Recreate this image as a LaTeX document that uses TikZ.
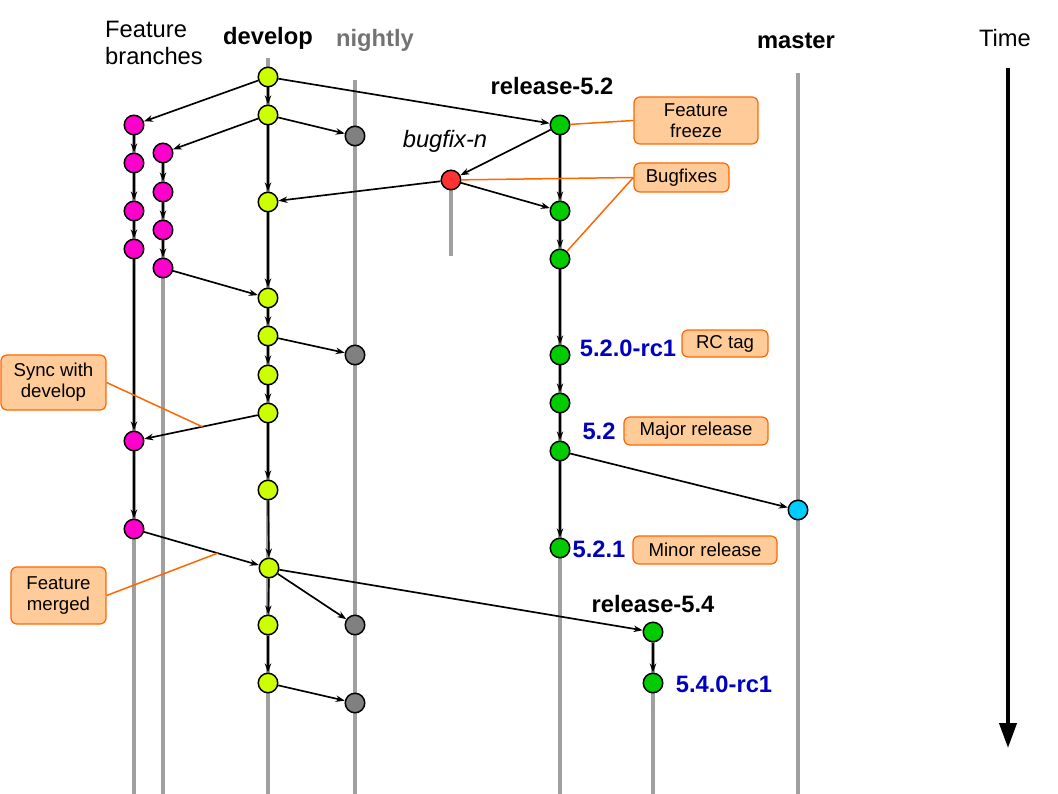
\documentclass[tikz,border=0pt]{standalone}
\usepackage{fontspec}
\setmainfont{Liberation Sans}
\usetikzlibrary{arrows.meta}
\usetikzlibrary{backgrounds}
\usetikzlibrary{calc}
\tikzset{>={Stealth[length=1.8mm,width=1.3mm]}}
\definecolor{devcol}{RGB}{204,255,0}
\definecolor{featcol}{RGB}{255,0,204}
\definecolor{nightcol}{RGB}{128,128,128}
\definecolor{fixcol}{RGB}{255,51,51}
\definecolor{relcol}{RGB}{0,204,0}
\definecolor{mastcol}{RGB}{0,204,255}
\definecolor{lanegray}{RGB}{160,160,160}
\definecolor{calloutfill}{RGB}{255,204,153}
\definecolor{calloutline}{RGB}{255,102,0}
\definecolor{tagblue}{RGB}{0,0,190}
\tikzset{
  commit/.style={circle,draw,line width=0.85pt,minimum size=3.9mm,inner sep=0pt},
  lane/.style={line width=2.2pt,draw=lanegray},
  merge/.style={->,line width=0.95pt},
  callout/.style={draw=calloutline,fill=calloutfill,rounded corners=1.2mm,line width=0.7pt,
    align=center,inner sep=0pt,font=\fontsize{10.6}{12}\selectfont},
  pointer/.style={draw=calloutline,line width=0.85pt},
  heading/.style={font=\fontsize{13.5}{16}\selectfont\bfseries},
  tagname/.style={font=\fontsize{13.5}{16}\selectfont\bfseries,text=tagblue},
}

\begin{document}
\begin{tikzpicture}[x=0.02cm,y=-0.02cm]
  \useasboundingbox (0,0) rectangle (1058,794);
  \coordinate (bottom) at (0,794);

  % develop
  \node[commit,fill=devcol] (d1) at (268,77) {};
  \node[commit,fill=devcol] (d2) at (268,115) {};
  \node[commit,fill=devcol] (d3) at (268,202) {};
  \node[commit,fill=devcol] (d4) at (268,298) {};
  \node[commit,fill=devcol] (d5) at (268,336) {};
  \node[commit,fill=devcol] (d6) at (268,375) {};
  \node[commit,fill=devcol] (d7) at (268,413) {};
  \node[commit,fill=devcol] (d8) at (268,490) {};
  \node[commit,fill=devcol] (d9) at (269,568) {};
  \node[commit,fill=devcol] (d10) at (268,625) {};
  \node[commit,fill=devcol] (d11) at (268,683) {};
  % feature branches
  \node[commit,fill=featcol] (f1) at (134,125) {};
  \node[commit,fill=featcol] (f2) at (134,163) {};
  \node[commit,fill=featcol] (f3) at (134,211) {};
  \node[commit,fill=featcol] (f4) at (134,249) {};
  \node[commit,fill=featcol] (f5) at (134,441) {};
  \node[commit,fill=featcol] (f6) at (134,529) {};
  \node[commit,fill=featcol] (g1) at (163,153) {};
  \node[commit,fill=featcol] (g2) at (163,192) {};
  \node[commit,fill=featcol] (g3) at (163,230) {};
  \node[commit,fill=featcol] (g4) at (163,268) {};
  % nightly
  \node[commit,fill=nightcol] (n1) at (355,136) {};
  \node[commit,fill=nightcol] (n2) at (355,355) {};
  \node[commit,fill=nightcol] (n3) at (355,625) {};
  \node[commit,fill=nightcol] (n4) at (355,703) {};
  % bugfix
  \node[commit,fill=fixcol] (b1) at (451,180) {};
  % releases
  \node[commit,fill=relcol] (r1) at (560,125) {};
  \node[commit,fill=relcol] (r2) at (560,211) {};
  \node[commit,fill=relcol] (r3) at (560,259) {};
  \node[commit,fill=relcol] (r4) at (560,355) {};
  \node[commit,fill=relcol] (r5) at (560,403) {};
  \node[commit,fill=relcol] (r6) at (560,451) {};
  \node[commit,fill=relcol] (r7) at (560,548) {};
  \node[commit,fill=relcol] (s1) at (653,632) {};
  \node[commit,fill=relcol] (s2) at (653,683) {};
  % master
  \node[commit,fill=mastcol] (m1) at (798,510) {};

  \coordinate (devtop) at (268,58);
  \coordinate (nighttop) at (355,80);
  \coordinate (masttop) at (798,73);
  \coordinate (fixend) at (451,256);
  \begin{scope}[on background layer]
    \draw[lane] (f1.center) -- (f1 |- bottom);
    \draw[lane] (g1.center) -- (g1 |- bottom);
    \draw[lane] (devtop) -- (devtop |- bottom);
    \draw[lane] (nighttop) -- (nighttop |- bottom);
    \draw[lane] (b1.center) -- (fixend);
    \draw[lane] (r1.center) -- (r1 |- bottom);
    \draw[lane] (s1.center) -- (s1 |- bottom);
    \draw[lane] (masttop) -- (masttop |- bottom);
  \end{scope}

  \draw[merge] (d1) -- (d2);
  \draw[merge] (d1) -- (f1);
  \draw[merge] (d1) -- (r1);
  \draw[merge] (d2) -- (g1);
  \draw[merge] (d2) -- (n1);
  \draw[merge] (d2) -- (d3);
  \draw[merge] (r1) -- (b1);
  \draw[merge] (r1) -- (r2);
  \draw[merge] (b1) -- (d3);
  \draw[merge] (b1) -- (r2);
  \draw[merge] (r2) -- (r3);
  \draw[merge] (r3) -- (r4);
  \draw[merge] (r4) -- (r5);
  \draw[merge] (r5) -- (r6);
  \draw[merge] (r6) -- (m1);
  \draw[merge] (r6) -- (r7);
  \draw[merge] (f1) -- (f2);
  \draw[merge] (f2) -- (f3);
  \draw[merge] (f3) -- (f4);
  \draw[merge] (f4) -- (f5);
  \draw[merge] (f5) -- (f6);
  \draw[merge] (f6) -- (d9);
  \draw[merge] (g1) -- (g2);
  \draw[merge] (g2) -- (g3);
  \draw[merge] (g3) -- (g4);
  \draw[merge] (g4) -- (d4);
  \draw[merge] (d3) -- (d4);
  \draw[merge] (d4) -- (d5);
  \draw[merge] (d5) -- (n2);
  \draw[merge] (d5) -- (d6);
  \draw[merge] (d6) -- (d7);
  \draw[merge] (d7) -- (f5);
  \draw[merge] (d7) -- (d8);
  \draw[merge] (d8) -- (d9);
  \draw[merge] (d9) -- (d10);
  \draw[merge] (d9) -- (n3);
  \draw[merge] (d9) -- (s1);
  \draw[merge] (d10) -- (d11);
  \draw[merge] (d11) -- (n4);
  \draw[merge] (s1) -- (s2);

  % branch names
  \node[align=left,anchor=west,font=\fontsize{13.5}{15.3}\selectfont] (featname) at (99,43) {Feature\\branches};
  \node[heading] (devname) at (268,38) {develop};
  \node[heading,text=nightcol!90!black] (nightname) at (375,40) {nightly};
  \node[heading] (relname) at (552,86) {release-5.2};
  \node[font=\fontsize{13.5}{16}\selectfont\itshape] (fixname) at (445,141) {bugfix-n};
  \node[heading] (mastname) at (796,41) {master};
  \node[heading] (rel4name) at (653,604) {release-5.4};
  \node[font=\fontsize{13.5}{16}\selectfont] (timename) at (1005,38) {Time};
  % tags
  \node[tagname] (rc1) at (628,348) {5.2.0-rc1};
  \node[tagname] (v52) at (599,431) {5.2};
  \node[tagname] (v521) at (599,549) {5.2.1};
  \node[tagname] (rc54) at (724,684) {5.4.0-rc1};

  % callouts
  \node[callout,minimum width=2.48cm,minimum height=0.94cm] (freeze) at (696,120.5) {Feature\\freeze};
  \node[callout,minimum width=1.9cm,minimum height=0.58cm] (fixes) at (681.5,177.5) {Bugfixes};
  \node[callout,minimum width=1.72cm,minimum height=0.54cm] (rctag) at (725,343.5) {RC tag};
  \node[callout,minimum width=2.88cm,minimum height=0.56cm] (major) at (696,431) {Major release};
  \node[callout,minimum width=2.88cm,minimum height=0.56cm] (minor) at (705,550) {Minor release};
  \node[callout,minimum width=2.1cm,minimum height=1.1cm] (sync) at (53.5,382.5) {Sync with\\develop};
  \node[callout,minimum width=1.9cm,minimum height=1.14cm] (merged) at (58.5,595.5) {Feature\\merged};

  \coordinate (syncpt) at ($(d7)!0.49!(f5)$);
  \coordinate (mergept) at ($(f6)!0.62!(d9)$);
  \draw[pointer] (r1) -- (freeze.west);
  \draw[pointer] (b1) -- (fixes.west);
  \draw[pointer] (r3) -- (fixes.west);
  \draw[pointer] (sync.east) -- (syncpt);
  \draw[pointer] (merged.east) -- (mergept);

  % time axis
  \coordinate (tstart) at (1008,68);
  \coordinate (tend) at (1008,748);
  \draw[line width=2.3pt,-{Triangle[length=5mm,width=3.4mm]}] (tstart) -- (tend);
\end{tikzpicture}
\end{document}
